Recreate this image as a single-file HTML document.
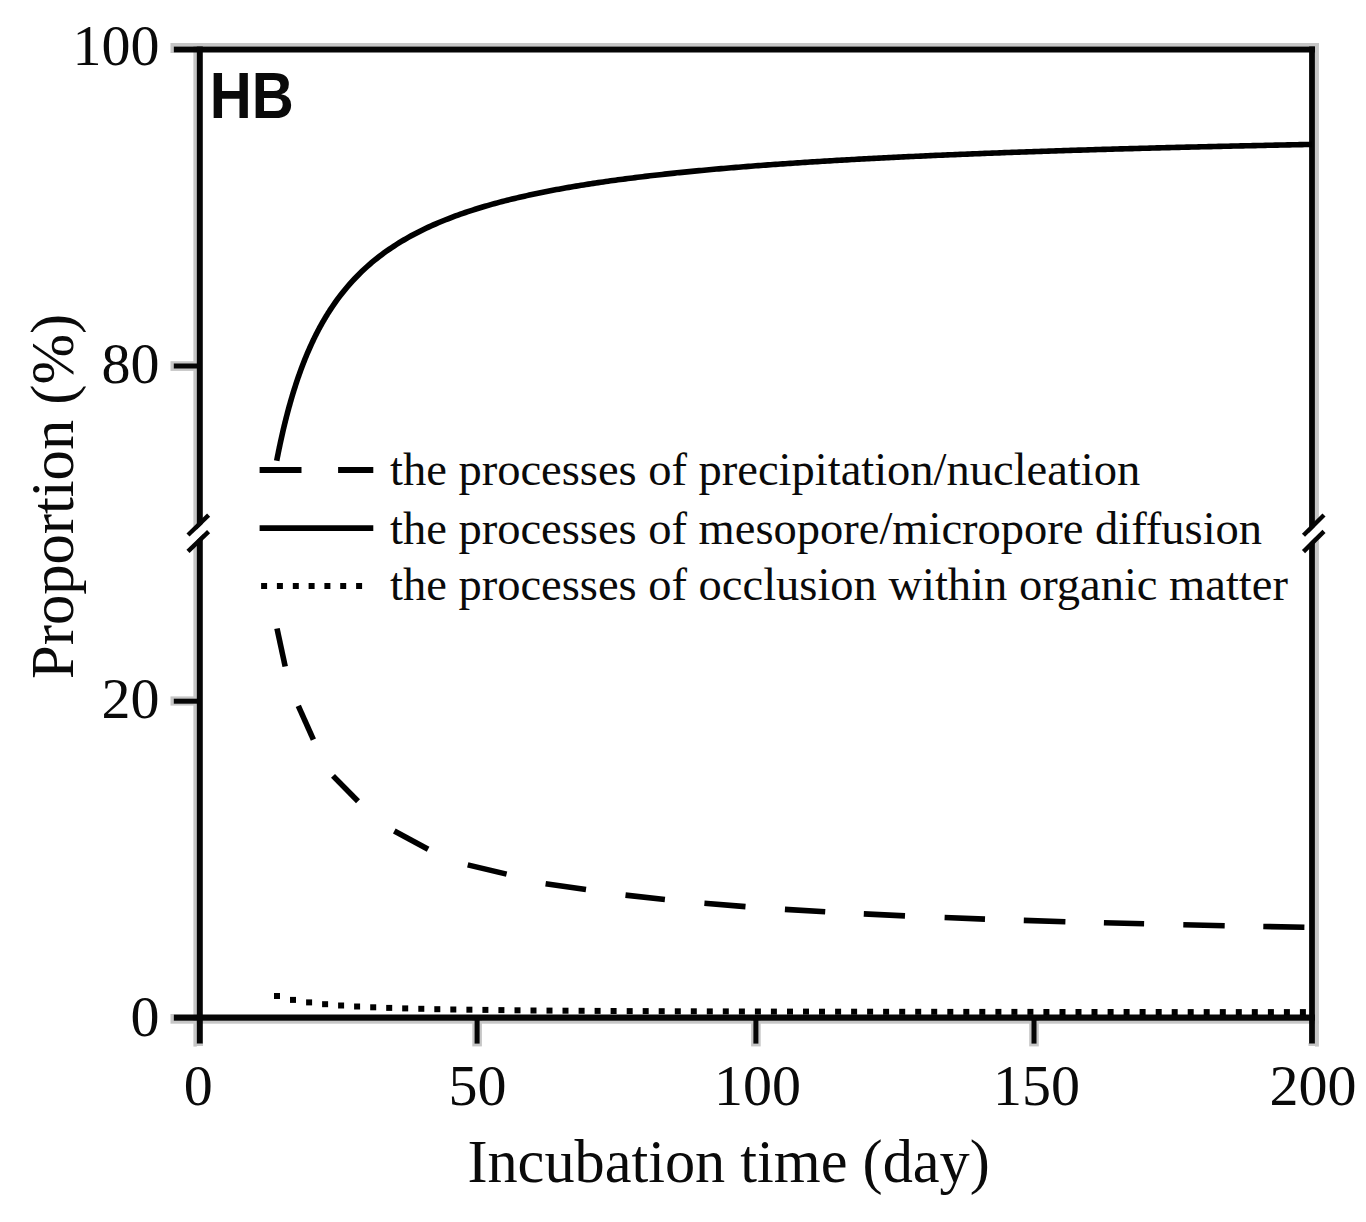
<!DOCTYPE html>
<html><head><meta charset="utf-8"><title>HB</title>
<style>html,body{margin:0;padding:0;background:#fff;overflow:hidden}svg{display:block}</style>
</head><body>
<svg width="1366" height="1222" viewBox="0 0 1366 1222">
<rect width="1366" height="1222" fill="#fff"/>
<g fill="#c6c6c6">
<rect x="170.5" y="43" width="1148.4" height="3.2"/>
<rect x="193.4" y="46" width="3.4" height="1000.6"/>
<rect x="1315" y="43" width="3.9" height="1003.6"/>
<rect x="170.5" y="1020.8" width="1148.4" height="2.9"/>
<rect x="170.5" y="46" width="3.3" height="7"/>
<rect x="170.5" y="1014" width="3.3" height="7"/>
<rect x="170.5" y="361.2" width="26" height="9.7"/>
<rect x="170.5" y="696.4" width="26" height="9.2"/>
<rect x="472.3" y="1020" width="9.6" height="26.4"/>
<rect x="751.1" y="1020" width="9.6" height="26.4"/>
<rect x="1029.2" y="1020" width="9.6" height="26.4"/>
<rect x="196" y="1043" width="7" height="3"/>
<rect x="1308.5" y="1043" width="7" height="3"/>
</g>
<g stroke="#050505" fill="none" stroke-linecap="butt">
<line x1="173.8" y1="49.5" x2="1315" y2="49.5" stroke-width="6.2"/>
<line x1="173.8" y1="1017.6" x2="1315" y2="1017.6" stroke-width="6.4"/>
<line x1="199.8" y1="46.4" x2="199.8" y2="1043.6" stroke-width="6"/>
<line x1="1312" y1="46.4" x2="1312" y2="1043.6" stroke-width="5.8"/>
<line x1="173.8" y1="366" x2="200" y2="366" stroke-width="5"/>
<line x1="173.8" y1="701.2" x2="200" y2="701.2" stroke-width="5"/>
<line x1="477.1" y1="1017" x2="477.1" y2="1043.6" stroke-width="5"/>
<line x1="755.9" y1="1017" x2="755.9" y2="1043.6" stroke-width="5"/>
<line x1="1034" y1="1017" x2="1034" y2="1043.6" stroke-width="5"/>
</g>
<polygon points="190,536.2 206.8,520 206.8,530.6 190,546.8" fill="#fff"/>
<polygon points="1305.5,536.2 1322,520 1322,530.6 1305.5,546.8" fill="#fff"/>
<g stroke="#050505" stroke-width="4.4" fill="none">
<line x1="188" y1="535" x2="208.6" y2="515.2"/>
<line x1="188" y1="551.4" x2="208.6" y2="531.6"/>
<line x1="1303.5" y1="535.2" x2="1324" y2="515"/>
<line x1="1303.5" y1="551.6" x2="1324" y2="531.4"/>
</g>
<path d="M276.70,460.77 L277.04,459.03 L277.37,457.32 L277.71,455.62 L278.04,453.94 L278.38,452.27 L278.71,450.63 L279.05,449.00 L279.38,447.38 L279.72,445.79 L280.05,444.20 L280.39,442.64 L280.72,441.09 L281.06,439.56 L281.39,438.04 L281.73,436.54 L282.06,435.05 L282.40,433.57 L282.73,432.11 L283.07,430.67 L283.40,429.23 L283.74,427.82 L284.07,426.41 L284.41,425.02 L284.75,423.64 L285.08,422.28 L285.42,420.92 L285.75,419.58 L286.09,418.26 L286.42,416.94 L286.76,415.64 L287.09,414.34 L287.43,413.06 L287.76,411.80 L288.10,410.54 L288.43,409.29 L288.77,408.06 L289.10,406.83 L289.44,405.62 L289.77,404.42 L290.11,403.23 L290.44,402.05 L290.78,400.87 L291.11,399.71 L291.45,398.56 L291.78,397.42 L292.12,396.29 L292.46,395.17 L292.79,394.05 L293.13,392.95 L293.46,391.86 L293.80,390.77 L294.13,389.70 L294.47,388.63 L294.80,387.57 L295.14,386.52 L295.47,385.48 L295.81,384.45 L296.14,383.42 L296.48,382.41 L296.81,381.40 L297.15,380.40 L297.48,379.41 L297.82,378.42 L298.15,377.45 L298.49,376.48 L298.82,375.52 L299.16,374.56 L299.49,373.62 L299.83,372.68 L300.17,371.75 L300.50,370.82 L300.84,369.90 L301.17,368.99 L301.51,368.09 L301.84,367.19 L302.18,366.30 L302.51,365.42 L302.85,364.54 L303.18,363.67 L303.52,362.81 L303.85,361.95 L304.19,361.10 L304.52,360.25 L304.86,359.41 L305.19,358.58 L305.53,357.76 L305.86,356.93 L306.20,356.12 L306.53,355.31 L306.87,354.51 L307.21,353.71 L307.54,352.92 L307.88,352.13 L308.21,351.35 L308.55,350.57 L308.88,349.80 L309.22,349.04 L309.55,348.28 L309.89,347.53 L310.22,346.78 L310.56,346.03 L310.89,345.29 L311.23,344.56 L311.56,343.83 L311.90,343.11 L312.23,342.39 L312.57,341.68 L312.90,340.97 L313.24,340.26 L313.57,339.56 L313.91,338.87 L314.24,338.17 L314.58,337.49 L314.92,336.81 L315.25,336.13 L315.59,335.46 L315.92,334.79 L316.26,334.12 L316.59,333.46 L316.93,332.81 L317.26,332.16 L317.60,331.51 L317.93,330.87 L318.27,330.23 L318.60,329.59 L318.94,328.96 L319.27,328.33 L319.61,327.71 L319.94,327.09 L320.28,326.48 L320.61,325.86 L320.95,325.26 L321.28,324.65 L321.62,324.05 L321.95,323.45 L322.29,322.86 L322.63,322.27 L322.96,321.68 L323.30,321.10 L323.63,320.52 L323.97,319.95 L324.30,319.38 L324.64,318.81 L324.97,318.24 L325.31,317.68 L325.64,317.12 L325.98,316.57 L326.31,316.01 L326.65,315.46 L326.98,314.92 L327.32,314.38 L327.65,313.84 L327.99,313.30 L328.32,312.77 L328.66,312.24 L328.99,311.71 L329.33,311.19 L329.66,310.67 L330.00,310.15 L332.46,306.43 L334.92,302.86 L337.38,299.44 L339.84,296.14 L342.31,292.97 L344.77,289.92 L347.23,286.97 L349.69,284.13 L352.15,281.39 L354.61,278.75 L357.07,276.19 L359.53,273.72 L361.99,271.33 L364.46,269.01 L366.92,266.77 L369.38,264.60 L371.84,262.49 L374.30,260.45 L376.76,258.47 L379.22,256.54 L381.68,254.67 L384.15,252.86 L386.61,251.09 L389.07,249.38 L391.53,247.70 L393.99,246.08 L396.45,244.50 L398.91,242.95 L401.37,241.45 L403.83,239.99 L406.30,238.56 L408.76,237.17 L411.22,235.81 L413.68,234.48 L416.14,233.19 L418.60,231.92 L421.06,230.69 L423.52,229.48 L425.98,228.30 L428.45,227.15 L430.91,226.02 L433.37,224.92 L435.83,223.84 L438.29,222.78 L440.75,221.75 L443.21,220.74 L445.67,219.75 L448.14,218.78 L450.60,217.83 L453.06,216.89 L455.52,215.98 L457.98,215.09 L460.44,214.21 L462.90,213.35 L465.36,212.50 L467.82,211.67 L470.29,210.86 L472.75,210.06 L475.21,209.28 L477.67,208.51 L480.13,207.75 L482.59,207.01 L485.05,206.28 L487.51,205.57 L489.97,204.86 L492.44,204.17 L494.90,203.49 L497.36,202.83 L499.82,202.17 L502.28,201.52 L504.74,200.89 L507.20,200.26 L509.66,199.65 L512.13,199.04 L514.59,198.45 L517.05,197.86 L519.51,197.28 L521.97,196.72 L524.43,196.16 L526.89,195.61 L529.35,195.06 L531.81,194.53 L534.28,194.00 L536.74,193.48 L539.20,192.97 L541.66,192.47 L544.12,191.98 L546.58,191.49 L549.04,191.00 L551.50,190.53 L553.96,190.06 L556.43,189.60 L558.89,189.14 L561.35,188.69 L563.81,188.25 L566.27,187.82 L568.73,187.38 L571.19,186.96 L573.65,186.54 L576.12,186.13 L578.58,185.72 L581.04,185.31 L583.50,184.91 L585.96,184.52 L588.42,184.13 L590.88,183.75 L593.34,183.37 L595.80,183.00 L598.27,182.63 L600.73,182.27 L603.19,181.91 L605.65,181.55 L608.11,181.20 L610.57,180.85 L613.03,180.51 L615.49,180.17 L617.95,179.84 L620.42,179.51 L622.88,179.18 L625.34,178.86 L627.80,178.54 L630.26,178.22 L632.72,177.91 L635.18,177.60 L637.64,177.30 L640.11,176.99 L642.57,176.70 L645.03,176.40 L647.49,176.11 L649.95,175.82 L652.41,175.54 L654.87,175.25 L657.33,174.97 L659.79,174.70 L662.26,174.42 L664.72,174.15 L667.18,173.89 L669.64,173.62 L672.10,173.36 L674.56,173.10 L677.02,172.84 L679.48,172.59 L681.94,172.34 L684.41,172.09 L686.87,171.84 L689.33,171.60 L691.79,171.36 L694.25,171.12 L696.71,170.88 L699.17,170.65 L701.63,170.42 L704.10,170.19 L706.56,169.96 L709.02,169.73 L711.48,169.51 L713.94,169.29 L716.40,169.07 L718.86,168.85 L721.32,168.64 L723.78,168.43 L726.25,168.22 L728.71,168.01 L731.17,167.80 L733.63,167.59 L736.09,167.39 L738.55,167.19 L741.01,166.99 L743.47,166.79 L745.93,166.60 L748.40,166.40 L750.86,166.21 L753.32,166.02 L755.78,165.83 L758.24,165.64 L760.70,165.46 L763.16,165.27 L765.62,165.09 L768.09,164.91 L770.55,164.73 L773.01,164.55 L775.47,164.38 L777.93,164.20 L780.39,164.03 L782.85,163.86 L785.31,163.68 L787.77,163.52 L790.24,163.35 L792.70,163.18 L795.16,163.02 L797.62,162.85 L800.08,162.69 L802.54,162.53 L805.00,162.37 L807.46,162.21 L809.92,162.05 L812.39,161.90 L814.85,161.74 L817.31,161.59 L819.77,161.44 L822.23,161.29 L824.69,161.14 L827.15,160.99 L829.61,160.84 L832.08,160.69 L834.54,160.55 L837.00,160.41 L839.46,160.26 L841.92,160.12 L844.38,159.98 L846.84,159.84 L849.30,159.70 L851.76,159.56 L854.23,159.43 L856.69,159.29 L859.15,159.16 L861.61,159.02 L864.07,158.89 L866.53,158.76 L868.99,158.63 L871.45,158.50 L873.91,158.37 L876.38,158.24 L878.84,158.11 L881.30,157.99 L883.76,157.86 L886.22,157.74 L888.68,157.61 L891.14,157.49 L893.60,157.37 L896.07,157.25 L898.53,157.13 L900.99,157.01 L903.45,156.89 L905.91,156.77 L908.37,156.66 L910.83,156.54 L913.29,156.43 L915.75,156.31 L918.22,156.20 L920.68,156.08 L923.14,155.97 L925.60,155.86 L928.06,155.75 L930.52,155.64 L932.98,155.53 L935.44,155.42 L937.90,155.32 L940.37,155.21 L942.83,155.10 L945.29,155.00 L947.75,154.89 L950.21,154.79 L952.67,154.68 L955.13,154.58 L957.59,154.48 L960.06,154.38 L962.52,154.28 L964.98,154.18 L967.44,154.08 L969.90,153.98 L972.36,153.88 L974.82,153.78 L977.28,153.68 L979.74,153.59 L982.21,153.49 L984.67,153.40 L987.13,153.30 L989.59,153.21 L992.05,153.11 L994.51,153.02 L996.97,152.93 L999.43,152.84 L1001.89,152.74 L1004.36,152.65 L1006.82,152.56 L1009.28,152.47 L1011.74,152.38 L1014.20,152.30 L1016.66,152.21 L1019.12,152.12 L1021.58,152.03 L1024.05,151.95 L1026.51,151.86 L1028.97,151.77 L1031.43,151.69 L1033.89,151.60 L1036.35,151.52 L1038.81,151.44 L1041.27,151.35 L1043.73,151.27 L1046.20,151.19 L1048.66,151.11 L1051.12,151.03 L1053.58,150.95 L1056.04,150.86 L1058.50,150.79 L1060.96,150.71 L1063.42,150.63 L1065.88,150.55 L1068.35,150.47 L1070.81,150.39 L1073.27,150.32 L1075.73,150.24 L1078.19,150.16 L1080.65,150.09 L1083.11,150.01 L1085.57,149.94 L1088.04,149.86 L1090.50,149.79 L1092.96,149.71 L1095.42,149.64 L1097.88,149.57 L1100.34,149.49 L1102.80,149.42 L1105.26,149.35 L1107.72,149.28 L1110.19,149.21 L1112.65,149.14 L1115.11,149.06 L1117.57,148.99 L1120.03,148.92 L1122.49,148.86 L1124.95,148.79 L1127.41,148.72 L1129.87,148.65 L1132.34,148.58 L1134.80,148.51 L1137.26,148.45 L1139.72,148.38 L1142.18,148.31 L1144.64,148.25 L1147.10,148.18 L1149.56,148.12 L1152.03,148.05 L1154.49,147.99 L1156.95,147.92 L1159.41,147.86 L1161.87,147.79 L1164.33,147.73 L1166.79,147.67 L1169.25,147.60 L1171.71,147.54 L1174.18,147.48 L1176.64,147.42 L1179.10,147.36 L1181.56,147.29 L1184.02,147.23 L1186.48,147.17 L1188.94,147.11 L1191.40,147.05 L1193.86,146.99 L1196.33,146.93 L1198.79,146.87 L1201.25,146.81 L1203.71,146.75 L1206.17,146.70 L1208.63,146.64 L1211.09,146.58 L1213.55,146.52 L1216.02,146.47 L1218.48,146.41 L1220.94,146.35 L1223.40,146.30 L1225.86,146.24 L1228.32,146.18 L1230.78,146.13 L1233.24,146.07 L1235.70,146.02 L1238.17,145.96 L1240.63,145.91 L1243.09,145.85 L1245.55,145.80 L1248.01,145.74 L1250.47,145.69 L1252.93,145.64 L1255.39,145.58 L1257.85,145.53 L1260.32,145.48 L1262.78,145.43 L1265.24,145.37 L1267.70,145.32 L1270.16,145.27 L1272.62,145.22 L1275.08,145.17 L1277.54,145.12 L1280.01,145.06 L1282.47,145.01 L1284.93,144.96 L1287.39,144.91 L1289.85,144.86 L1292.31,144.81 L1294.77,144.76 L1297.23,144.71 L1299.69,144.67 L1302.16,144.62 L1304.62,144.57 L1307.08,144.52 L1309.54,144.47 L1312.00,144.42" fill="none" stroke="#000" stroke-width="5.6"/>
<g stroke="#000" stroke-width="5.6" fill="none"><line x1="277.0" y1="628.5" x2="285.2" y2="666.5"/><line x1="298.3" y1="705.8" x2="313.4" y2="739.7"/><line x1="333.0" y1="775.9" x2="358.0" y2="801.2"/><line x1="394.3" y1="831.0" x2="428.1" y2="849.2"/><line x1="467.7" y1="864.9" x2="506.6" y2="874.1"/><line x1="545.6" y1="883.8" x2="586.0" y2="889.5"/><line x1="625.5" y1="895.1" x2="664.9" y2="899.5"/><line x1="704.4" y1="903.3" x2="745.5" y2="906.6"/><line x1="784.9" y1="909.4" x2="825.2" y2="911.8"/><line x1="863.8" y1="913.9" x2="905.0" y2="915.9"/><line x1="944.6" y1="917.5" x2="985.0" y2="919.1"/><line x1="1023.8" y1="920.4" x2="1065.4" y2="921.7"/><line x1="1103.9" y1="922.8" x2="1144.1" y2="923.8"/><line x1="1183.3" y1="924.8" x2="1224.7" y2="925.7"/><line x1="1263.3" y1="926.5" x2="1304.4" y2="927.3"/></g>
<g fill="#000"><rect x="274.0" y="993.0" width="6.0" height="6.0"/><rect x="290.0" y="996.9" width="6.0" height="6.0"/><rect x="306.1" y="999.4" width="6.0" height="6.0"/><rect x="322.1" y="1001.2" width="6.0" height="6.0"/><rect x="338.1" y="1002.5" width="6.0" height="6.0"/><rect x="354.1" y="1003.5" width="6.0" height="6.0"/><rect x="370.2" y="1004.3" width="6.0" height="6.0"/><rect x="386.2" y="1004.9" width="6.0" height="6.0"/><rect x="402.2" y="1005.4" width="6.0" height="6.0"/><rect x="418.3" y="1005.8" width="6.0" height="6.0"/><rect x="434.3" y="1006.2" width="6.0" height="6.0"/><rect x="450.3" y="1006.5" width="6.0" height="6.0"/><rect x="466.4" y="1006.7" width="6.0" height="6.0"/><rect x="482.4" y="1006.9" width="6.0" height="6.0"/><rect x="498.4" y="1007.1" width="6.0" height="6.0"/><rect x="514.5" y="1007.3" width="6.0" height="6.0"/><rect x="530.5" y="1007.5" width="6.0" height="6.0"/><rect x="546.5" y="1007.6" width="6.0" height="6.0"/><rect x="562.5" y="1007.7" width="6.0" height="6.0"/><rect x="578.6" y="1007.8" width="6.0" height="6.0"/><rect x="594.6" y="1007.9" width="6.0" height="6.0"/><rect x="610.6" y="1008.0" width="6.0" height="6.0"/><rect x="626.7" y="1008.1" width="6.0" height="6.0"/><rect x="642.7" y="1008.1" width="6.0" height="6.0"/><rect x="658.7" y="1008.2" width="6.0" height="6.0"/><rect x="674.8" y="1008.3" width="6.0" height="6.0"/><rect x="690.8" y="1008.3" width="6.0" height="6.0"/><rect x="706.8" y="1008.4" width="6.0" height="6.0"/><rect x="722.8" y="1008.4" width="6.0" height="6.0"/><rect x="738.9" y="1008.5" width="6.0" height="6.0"/><rect x="754.9" y="1008.5" width="6.0" height="6.0"/><rect x="770.9" y="1008.6" width="6.0" height="6.0"/><rect x="787.0" y="1008.6" width="6.0" height="6.0"/><rect x="803.0" y="1008.6" width="6.0" height="6.0"/><rect x="819.0" y="1008.7" width="6.0" height="6.0"/><rect x="835.1" y="1008.7" width="6.0" height="6.0"/><rect x="851.1" y="1008.7" width="6.0" height="6.0"/><rect x="867.1" y="1008.7" width="6.0" height="6.0"/><rect x="883.1" y="1008.8" width="6.0" height="6.0"/><rect x="899.2" y="1008.8" width="6.0" height="6.0"/><rect x="915.2" y="1008.8" width="6.0" height="6.0"/><rect x="931.2" y="1008.8" width="6.0" height="6.0"/><rect x="947.3" y="1008.9" width="6.0" height="6.0"/><rect x="963.3" y="1008.9" width="6.0" height="6.0"/><rect x="979.3" y="1008.9" width="6.0" height="6.0"/><rect x="995.4" y="1008.9" width="6.0" height="6.0"/><rect x="1011.4" y="1008.9" width="6.0" height="6.0"/><rect x="1027.4" y="1008.9" width="6.0" height="6.0"/><rect x="1043.4" y="1009.0" width="6.0" height="6.0"/><rect x="1059.5" y="1009.0" width="6.0" height="6.0"/><rect x="1075.5" y="1009.0" width="6.0" height="6.0"/><rect x="1091.5" y="1009.0" width="6.0" height="6.0"/><rect x="1107.6" y="1009.0" width="6.0" height="6.0"/><rect x="1123.6" y="1009.0" width="6.0" height="6.0"/><rect x="1139.6" y="1009.0" width="6.0" height="6.0"/><rect x="1155.7" y="1009.0" width="6.0" height="6.0"/><rect x="1171.7" y="1009.1" width="6.0" height="6.0"/><rect x="1187.7" y="1009.1" width="6.0" height="6.0"/><rect x="1203.7" y="1009.1" width="6.0" height="6.0"/><rect x="1219.8" y="1009.1" width="6.0" height="6.0"/><rect x="1235.8" y="1009.1" width="6.0" height="6.0"/><rect x="1251.8" y="1009.1" width="6.0" height="6.0"/><rect x="1267.9" y="1009.1" width="6.0" height="6.0"/><rect x="1283.9" y="1009.1" width="6.0" height="6.0"/><rect x="1299.9" y="1009.1" width="6.0" height="6.0"/></g>
<g stroke="#000" fill="none">
<line x1="259.6" y1="470" x2="301.5" y2="470" stroke-width="5.8"/>
<line x1="338.1" y1="470" x2="373.3" y2="470" stroke-width="5.8"/>
<line x1="259.6" y1="528.2" x2="373.3" y2="528.2" stroke-width="5.8"/>
</g>
<g fill="#000"><rect x="261.1" y="583" width="6" height="6"/><rect x="276.9" y="583" width="6" height="6"/><rect x="292.8" y="583" width="6" height="6"/><rect x="308.6" y="583" width="6" height="6"/><rect x="324.4" y="583" width="6" height="6"/><rect x="340.2" y="583" width="6" height="6"/><rect x="356.1" y="583" width="6" height="6"/></g>
<g font-family="Liberation Serif, serif" fill="#0a0a0a">
<g font-size="58" text-anchor="end">
<text x="159.4" y="65.3">100</text>
<text x="159.4" y="383.2">80</text>
<text x="159.4" y="717.9">20</text>
<text x="159.4" y="1036.4">0</text>
</g>
<g font-size="58" text-anchor="middle">
<text x="198.3" y="1105.2">0</text>
<text x="477.4" y="1105.2">50</text>
<text x="757.5" y="1105.2">100</text>
<text x="1036.5" y="1105.2">150</text>
<text x="1313" y="1105.2">200</text>
</g>
<g font-size="46.5">
<text x="390" y="485.3">the processes of precipitation/nucleation</text>
<text x="390" y="544">the processes of mesopore/micropore diffusion</text>
<text x="390" y="599.9">the processes of occlusion within organic matter</text>
</g>
<text x="467.4" y="1181.5" font-size="60.3">Incubation time (day)</text>
<text transform="translate(72.6,679) rotate(-90)" font-size="60.6">Proportion (%)</text>
</g>
<text transform="translate(209.8,117.8) scale(0.89,1)" font-family="Liberation Sans, sans-serif" font-weight="bold" font-size="65.4" fill="#0a0a0a">HB</text>
</svg>
</body></html>
